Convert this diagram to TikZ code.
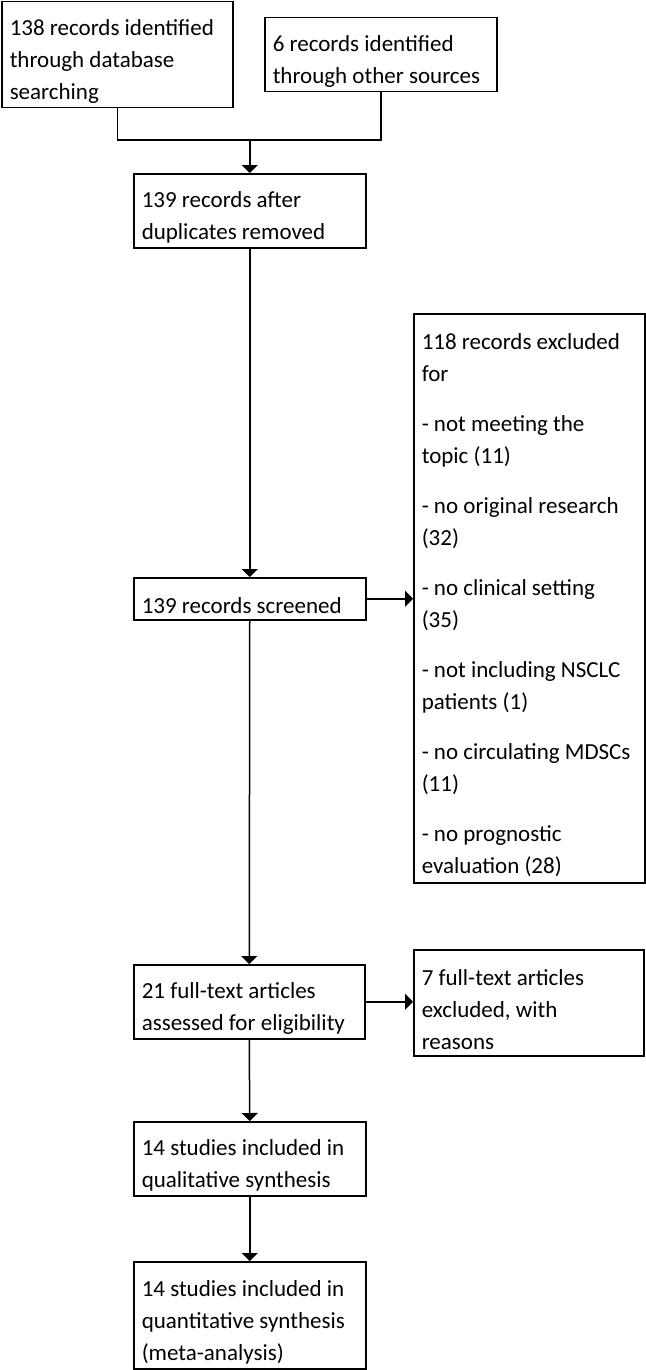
\documentclass[tikz,border=0pt]{standalone}
\usepackage{fontspec}
\setmainfont{Carlito}
\usetikzlibrary{arrows.meta}

\begin{document}
\begin{tikzpicture}[
                x=1pt, y=-1pt,
                box/.style={draw, line width=1.5pt, anchor=north west, align=flush left,
                    inner xsep=8pt, inner ysep=0pt,
                    font=\fontsize{23}{32}\selectfont,
                    execute at begin node={\rule{0pt}{30pt}}},
                link/.style={line width=1.5pt},
                arrow/.style={line width=1.5pt, -{Triangle[width=16pt,length=8pt]}}
            ]
            \useasboundingbox (0,0) rectangle (645,1370);

            \node[box, text width=215pt, minimum height=106pt] (ident) at (1,1)
            {138 records identified\\through database\\searching};
            \node[box, text width=216pt, minimum height=74pt] (other) at (264,17)
            {6 records identified\\through other sources};
            \node[box, text width=216pt, minimum height=74pt] (dup) at (133,173)
            {139 records after\\duplicates removed};
            \node[box, text width=216pt, minimum height=42pt] (screen) at (133,577)
            {139 records screened};
            \node[box, text width=215pt, minimum height=569pt] (excl) at (413,313)
            {118 records excluded\\for\\[18pt]
            - not meeting the\\topic (11)\\[18pt]
            - no original research\\(32)\\[18pt]
            - no clinical setting\\(35)\\[18pt]
            - not including NSCLC\\patients (1)\\[18pt]
            - no circulating MDSCs\\(11)\\[18pt]
            - no prognostic\\evaluation (28)};
            \node[box, text width=215pt, minimum height=74pt] (full) at (133,964)
            {21 full-text articles\\assessed for eligibility};
            \node[box, text width=214pt, minimum height=106pt] (fullex) at (413,949)
            {7 full-text articles\\excluded, with\\reasons};
            \node[box, text width=216pt, minimum height=74pt] (qual) at (133,1121)
            {14 studies included in\\qualitative synthesis};
            \node[box, text width=216pt, minimum height=107pt] (quant) at (133,1261)
            {14 studies included in\\quantitative synthesis\\(meta-analysis)};

            % merge of the two sources
            \coordinate (join) at (dup.north |- 0,140);
            \draw[link] (ident.south) |- (join) -| (other.south);
            \draw[arrow] (join) -- (dup.north);

            \draw[arrow] (dup.south) -- (screen.north);
            \draw[arrow] (screen.east) -- (excl.west |- screen.east);
            \draw[arrow] (screen.south) -- (full.north);
            \draw[arrow] (full.east) -- (fullex.west |- full.east);
            \draw[arrow] (full.south) -- (qual.north);
            \draw[arrow] (qual.south) -- (quant.north);
        \end{tikzpicture}
\end{document}
